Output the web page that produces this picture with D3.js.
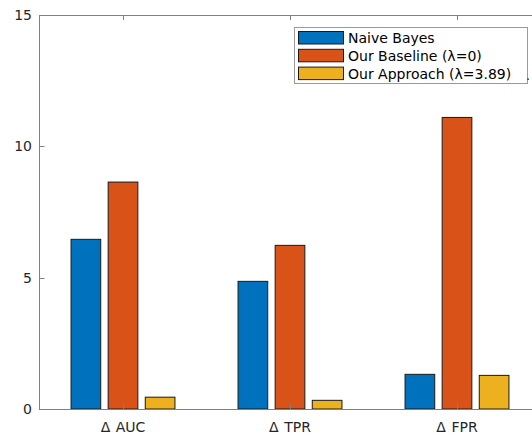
<!DOCTYPE html>
<html>
<head>
<meta charset="utf-8">
<script src="https://cdn.jsdelivr.net/npm/d3@7"></script>
<style>
  html, body { margin: 0; padding: 0; background: #fff; }
  svg { display: block; }
  text { font-family: "DejaVu Sans", sans-serif; fill: #262626; }
</style>
</head>
<body>
<svg id="chart" width="532" height="436"></svg>
<script>
const categories = ["AUC", "TPR", "FPR"];
const categoryPrefix = "\u0394";
const seriesNames = ["Naive Bayes", "Our Baseline (\u03bb=0)", "Our Approach (\u03bb=3.89)"];
const naiveBayes = [6.46, 4.86, 1.32];
const ourBaseline = [8.64, 6.23, 11.10];
const ourApproach = [0.45, 0.33, 1.28];
const yTicks = [0, 5, 10, 15];
const colors = ["#0072BD", "#D95319", "#EDB120"];

const series = [naiveBayes, ourBaseline, ourApproach];

const svg = d3.select("#chart");
const plotLeft = 39.5, plotTop = 15, plotBottom = 409;
const x = d3.scaleLinear().domain([0.5, 3.5]).range([plotLeft, plotLeft + 501]);
const y = d3.scaleLinear().domain([0, 15]).range([plotBottom, plotTop]);

const nb = series.length;
const groupWidth = Math.min(0.8, nb / (nb + 1.5));
const barW = groupWidth / nb * 0.8;

// bars
series.forEach((vals, si) => {
  const off = (si - (nb - 1) / 2) * groupWidth / nb;
  svg.append("g").selectAll("rect").data(vals).join("rect")
    .attr("x", (d, i) => x(i + 1 + off) - (x(barW) - x(0)) / 2)
    .attr("width", x(barW) - x(0))
    .attr("y", d => y(d))
    .attr("height", d => y(0) - y(d))
    .attr("fill", colors[si])
    .attr("stroke", "#1a1a1a")
    .attr("stroke-width", 1);
});

const axisColor = "#808080";
// axis lines
svg.append("line").attr("x1", plotLeft).attr("x2", 532).attr("y1", plotTop + 0.5).attr("y2", plotTop + 0.5)
  .attr("stroke", axisColor);
svg.append("line").attr("x1", plotLeft).attr("x2", 532).attr("y1", plotBottom + 0.5).attr("y2", plotBottom + 0.5)
  .attr("stroke", axisColor);
svg.append("line").attr("x1", plotLeft).attr("x2", plotLeft).attr("y1", plotTop).attr("y2", plotBottom + 1)
  .attr("stroke", axisColor);

// y ticks
yTicks.forEach(t => {
  const yy = Math.round(y(t)) + 0.5;
  svg.append("line").attr("x1", plotLeft).attr("x2", plotLeft + 5).attr("y1", yy).attr("y2", yy)
    .attr("stroke", axisColor);
  svg.append("text").attr("x", 32).attr("y", y(t)).attr("dy", "0.35em")
    .attr("text-anchor", "end").attr("font-size", 14).text(t);
});

// x ticks and labels
categories.forEach((c, i) => {
  const xx = Math.round(x(i + 1)) + 0.5;
  svg.append("line").attr("x1", xx).attr("x2", xx).attr("y1", plotBottom).attr("y2", plotBottom - 5)
    .attr("stroke", axisColor);
  svg.append("line").attr("x1", xx).attr("x2", xx).attr("y1", plotTop).attr("y2", plotTop + 5)
    .attr("stroke", axisColor);
  const t = svg.append("text").attr("x", x(i + 1)).attr("y", 431.5)
    .attr("text-anchor", "middle").attr("font-size", 14);
  t.append("tspan").text(categoryPrefix);
  t.append("tspan").attr("dx", 5.5).text(c);
});

// legend
const lg = svg.append("g");
lg.append("rect").attr("x", 294.5).attr("y", 27.5).attr("width", 233).attr("height", 56)
  .attr("fill", "#fff").attr("stroke", "#9a9a9a");
seriesNames.forEach((n, i) => {
  const yy = 31.5 + i * 17.8;
  lg.append("rect").attr("x", 298.5).attr("y", yy).attr("width", 45).attr("height", 12.5)
    .attr("fill", colors[i]).attr("stroke", "#1a1a1a");
  lg.append("text").attr("x", 348).attr("y", yy + 6.5).attr("dy", "0.35em")
    .attr("font-size", 14).style("fill", "#000").text(n);
});
lg.append("text").attr("x", 526).attr("y", 80).attr("font-size", 13).text(".");
</script>
</body>
</html>
